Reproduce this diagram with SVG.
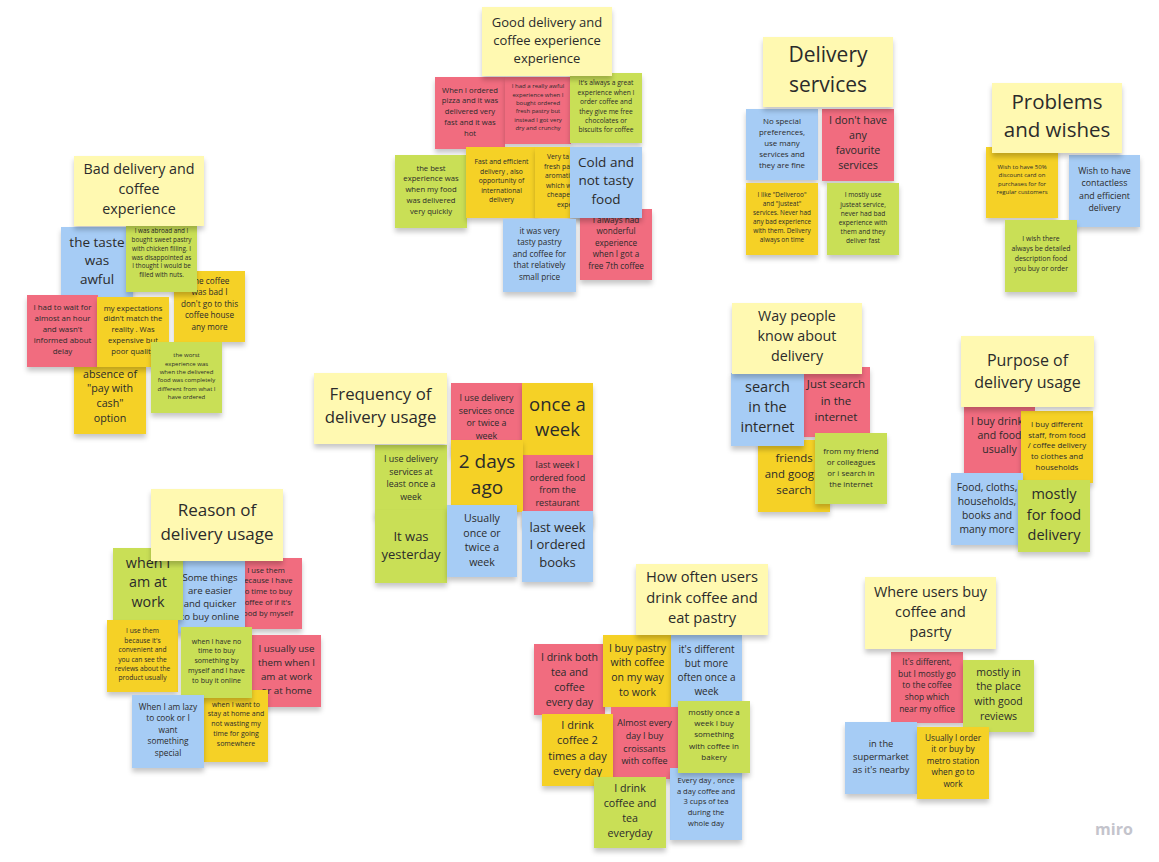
<svg xmlns="http://www.w3.org/2000/svg" width="1159" height="862" viewBox="0 0 1159 862">
<defs>
<filter id="sh" x="-20%" y="-20%" width="140%" height="150%">
<feDropShadow dx="0" dy="4" stdDeviation="2.5" flood-color="#000" flood-opacity="0.22"/>
</filter>
</defs>
<style>
.n{filter:url(#sh)}
.ly{fill:#fff9b1}.pk{fill:#f16c7f}.gr{fill:#c9df56}.bl{fill:#a6ccf5}.yl{fill:#f5d128}
text{font-family:"Open Sans","Noto Sans","DejaVu Sans",sans-serif;fill:#2b2b2b;text-anchor:middle}
.st{text-anchor:start}
.logo{font-family:"Open Sans","Noto Sans",sans-serif;font-weight:700;fill:#c4c4cc;font-size:16px}
</style>
<rect x="0" y="0" width="1159" height="862" fill="#ffffff"/>

<!-- Good delivery cluster -->
<g id="good-pizza"><rect class="n pk" x="435" y="77" width="70" height="72"/><text font-size="7.7"><tspan x="470" y="92.7">When I ordered</tspan><tspan x="470" y="103.4">pizza and it was</tspan><tspan x="470" y="114.2">delivered very</tspan><tspan x="470" y="124.9">fast and it was</tspan><tspan x="470" y="135.7">hot</tspan></text></g>
<g id="good-awful"><rect class="n pk" x="505" y="77" width="66" height="67"/><text font-size="6"><tspan x="538" y="88.1">I had a really awful</tspan><tspan x="538" y="96.5">experience when I</tspan><tspan x="538" y="104.9">bought ordered</tspan><tspan x="538" y="113.3">fresh pastry but</tspan><tspan x="538" y="121.7">instead I got very</tspan><tspan x="538" y="130.1">dry and crunchy</tspan></text></g>
<g id="good-great"><rect class="n gr" x="570" y="73" width="72" height="70"/><text font-size="6.7"><tspan x="606" y="85.3">It's always a great</tspan><tspan x="606" y="94.7">experience when I</tspan><tspan x="606" y="104.1">order coffee and</tspan><tspan x="606" y="113.5">they give me free</tspan><tspan x="606" y="122.9">chocolates or</tspan><tspan x="606" y="132.3">biscuits  for coffee</tspan></text></g>
<g id="good-title"><rect class="n ly" x="482" y="7" width="130" height="69"/><text font-size="13"><tspan x="547" y="26.5">Good delivery and</tspan><tspan x="547" y="44.5">coffee experience</tspan><tspan x="547" y="62.5">experience</tspan></text></g>
<g id="good-best"><rect class="n gr" x="395" y="155" width="72" height="73"/><text font-size="7.7"><tspan x="431" y="170.7">the best</tspan><tspan x="431" y="181.4">experience was</tspan><tspan x="431" y="192.2">when my food</tspan><tspan x="431" y="202.9">was delivered</tspan><tspan x="431" y="213.7">very quickly</tspan></text></g>
<g id="good-fast"><rect class="n yl" x="466" y="147" width="71" height="71"/><text font-size="6.8"><tspan x="501.5" y="164.4">Fast and efficient</tspan><tspan x="501.5" y="173.9">delivery , also</tspan><tspan x="501.5" y="183.4">opportunity of</tspan><tspan x="501.5" y="192.9">international</tspan><tspan x="501.5" y="202.4">delivery</tspan></text></g>
<g id="good-tasty"><rect class="n yl" x="535" y="147" width="70" height="71"/><text font-size="6.8" class="st"><tspan x="547" y="159.4">Very ta</tspan><tspan x="544" y="168.9">fresh pa</tspan><tspan x="545" y="178.4">aromati</tspan><tspan x="546" y="187.9">which w</tspan><tspan x="547" y="197.4">cheape</tspan><tspan x="557" y="206.9">expe</tspan></text></g>
<g id="good-7th"><rect class="n pk" x="580" y="209" width="72" height="71"/><text font-size="8.2"><tspan x="616" y="222.9">I always had</tspan><tspan x="616" y="234.4">wonderful</tspan><tspan x="616" y="245.9">experience</tspan><tspan x="616" y="257.4">when I got a</tspan><tspan x="616" y="268.9">free 7th coffee</tspan></text></g>
<g id="good-cold"><rect class="n bl" x="570" y="147" width="72" height="71"/><text font-size="13.5"><tspan x="606" y="166.7">Cold and</tspan><tspan x="606" y="185.2">not tasty</tspan><tspan x="606" y="203.7">food</tspan></text></g>
<g id="good-price"><rect class="n bl" x="503" y="219" width="73" height="73"/><text font-size="8.2"><tspan x="539.5" y="233.9">it  was very</tspan><tspan x="539.5" y="245.4">tasty pastry</tspan><tspan x="539.5" y="256.9">and coffee for</tspan><tspan x="539.5" y="268.4">that relatively</tspan><tspan x="539.5" y="279.9">small price</tspan></text></g>

<!-- Bad delivery cluster -->
<g id="bad-taste"><rect class="n bl" x="61" y="227" width="72" height="71"/><text font-size="13.5"><tspan x="97" y="246.7">the taste</tspan><tspan x="97" y="265.2">was</tspan><tspan x="97" y="283.7">awful</tspan></text></g>
<g id="bad-coffee"><rect class="n yl" x="174" y="271" width="71" height="71"/><text font-size="8.2"><tspan x="209.5" y="283.9">The coffee</tspan><tspan x="209.5" y="295.4">was bad I</tspan><tspan x="209.5" y="306.9">don't go to this</tspan><tspan x="209.5" y="318.4">coffee house</tspan><tspan x="209.5" y="329.9">any more</tspan></text></g>
<g id="bad-abroad"><rect class="n gr" x="126" y="225" width="71" height="67"/><text font-size="6.3"><tspan x="161.5" y="233.2">I was abroad and I</tspan><tspan x="161.5" y="242">bought sweet pastry</tspan><tspan x="161.5" y="250.8">with chicken filling. I</tspan><tspan x="161.5" y="259.6">was disappointed as</tspan><tspan x="161.5" y="268.4">I thought I would be</tspan><tspan x="161.5" y="277.2">filled with nuts.</tspan></text></g>
<g id="bad-cash"><rect class="n yl" x="74" y="362" width="72" height="72"/><text font-size="10.7"><tspan x="110" y="377.7">absence of</tspan><tspan x="110" y="392.4">"pay with</tspan><tspan x="110" y="407.1">cash"</tspan><tspan x="110" y="421.8">option</tspan></text></g>
<g id="bad-wait"><rect class="n pk" x="27" y="295" width="71" height="72"/><text font-size="7.9"><tspan x="62.5" y="309.8">I had to wait for</tspan><tspan x="62.5" y="320.8">almost an  hour</tspan><tspan x="62.5" y="331.8">and wasn't</tspan><tspan x="62.5" y="342.8">informed about</tspan><tspan x="62.5" y="353.8">delay</tspan></text></g>
<g id="bad-expect"><rect class="n yl" x="97" y="297" width="72" height="70"/><text font-size="7.7"><tspan x="133" y="310.7">my expectations</tspan><tspan x="133" y="321.4">didn't match the</tspan><tspan x="133" y="332.2">reality . Was</tspan><tspan x="133" y="342.9">expensive but</tspan><tspan x="133" y="353.7">poor quality</tspan></text></g>
<g id="bad-worst"><rect class="n gr" x="151" y="342" width="71" height="71"/><text font-size="6"><tspan x="186.5" y="357.1">the worst</tspan><tspan x="186.5" y="365.5">experience was</tspan><tspan x="186.5" y="373.9">when the delivered</tspan><tspan x="186.5" y="382.3">food was completely</tspan><tspan x="186.5" y="390.7">different from what I</tspan><tspan x="186.5" y="399.1">have ordered</tspan></text></g>
<g id="bad-title"><rect class="n ly" x="74" y="156" width="130" height="70"/><text font-size="14.3"><tspan x="139" y="174">Bad delivery and</tspan><tspan x="139" y="194">coffee</tspan><tspan x="139" y="214">experience</tspan></text></g>

<!-- Delivery services -->
<g id="svc-none"><rect class="n bl" x="746" y="109" width="72" height="71"/><text font-size="7.9"><tspan x="782" y="123.8">No special</tspan><tspan x="782" y="134.8">preferences,</tspan><tspan x="782" y="145.8">use many</tspan><tspan x="782" y="156.8">services and</tspan><tspan x="782" y="167.8">they are fine</tspan></text></g>
<g id="svc-fav"><rect class="n pk" x="822" y="109" width="72" height="72"/><text font-size="10.7"><tspan x="858" y="123.7">I don't have</tspan><tspan x="858" y="138.7">any</tspan><tspan x="858" y="153.7">favourite</tspan><tspan x="858" y="168.7">services</tspan></text></g>
<g id="svc-deliveroo"><rect class="n yl" x="746" y="183" width="72" height="72"/><text font-size="6.4"><tspan x="782" y="197.2">I like "Deliveroo"</tspan><tspan x="782" y="206.2">and "Justeat"</tspan><tspan x="782" y="215.2">services. Never had</tspan><tspan x="782" y="224.2">any bad experience</tspan><tspan x="782" y="233.2">with them. Delivery</tspan><tspan x="782" y="242.2">always on time</tspan></text></g>
<g id="svc-justeat"><rect class="n gr" x="827" y="183" width="72" height="72"/><text font-size="6.6"><tspan x="863" y="197.3">I mostly use</tspan><tspan x="863" y="206.5">justeat service,</tspan><tspan x="863" y="215.7">never had bad</tspan><tspan x="863" y="224.9">experience with</tspan><tspan x="863" y="234.1">them and they</tspan><tspan x="863" y="243.3">deliver fast</tspan></text></g>
<g id="svc-title"><rect class="n ly" x="763" y="37" width="130" height="70"/><text font-size="21"><tspan x="828" y="62.4">Delivery</tspan><tspan x="828" y="92.4">services</tspan></text></g>

<!-- Problems and wishes -->
<g id="pw-discount"><rect class="n yl" x="986" y="147" width="72" height="71"/><text font-size="6"><tspan x="1022" y="169.1">Wish to have 50%</tspan><tspan x="1022" y="177.4">discount card on</tspan><tspan x="1022" y="185.7">purchases for for</tspan><tspan x="1022" y="194">regular customers</tspan></text></g>
<g id="pw-contactless"><rect class="n bl" x="1069" y="155" width="71" height="72"/><text font-size="8.8"><tspan x="1104.5" y="174.1">Wish to have</tspan><tspan x="1104.5" y="186.4">contactless</tspan><tspan x="1104.5" y="198.7">and efficient</tspan><tspan x="1104.5" y="211">delivery</tspan></text></g>
<g id="pw-description"><rect class="n gr" x="1005" y="220" width="72" height="72"/><text font-size="6.9"><tspan x="1041" y="241.4">I wish there</tspan><tspan x="1041" y="251.1">always be detailed</tspan><tspan x="1041" y="260.8">description food</tspan><tspan x="1041" y="270.5">you buy or order</tspan></text></g>
<g id="pw-title"><rect class="n ly" x="992" y="83" width="130" height="70"/><text font-size="20.5"><tspan x="1057" y="109.2">Problems</tspan><tspan x="1057" y="137.2">and wishes</tspan></text></g>

<!-- Frequency -->
<g id="fr-once-twice"><rect class="n pk" x="451" y="383" width="71" height="72"/><text font-size="8.9"><tspan x="486.5" y="401.1">I use delivery</tspan><tspan x="486.5" y="413.6">services once</tspan><tspan x="486.5" y="426.1">or twice a</tspan><tspan x="486.5" y="438.6">week</tspan></text></g>
<g id="fr-once-week"><rect class="n yl" x="522" y="383" width="71" height="72"/><text font-size="18.5"><tspan x="557.5" y="410.5">once a</tspan><tspan x="557.5" y="435.5">week</tspan></text></g>
<g id="fr-restaurant"><rect class="n pk" x="522" y="455" width="71" height="70"/><text font-size="9"><tspan x="557.5" y="468.2">last week I</tspan><tspan x="557.5" y="480.8">ordered food</tspan><tspan x="557.5" y="493.4">from the</tspan><tspan x="557.5" y="506">restaurant</tspan></text></g>
<g id="fr-2days"><rect class="n yl" x="451" y="440" width="72" height="72"/><text font-size="19"><tspan x="487" y="467.7">2 days</tspan><tspan x="487" y="493.7">ago</tspan></text></g>
<g id="fr-least"><rect class="n gr" x="375" y="445" width="72" height="72"/><text font-size="8.9"><tspan x="411" y="462.1">I use delivery</tspan><tspan x="411" y="474.6">services at</tspan><tspan x="411" y="487.1">least once a</tspan><tspan x="411" y="499.6">week</tspan></text></g>
<g id="fr-yesterday"><rect class="n gr" x="375" y="510" width="72" height="73"/><text font-size="13"><tspan x="411" y="540.6">It was</tspan><tspan x="411" y="558.6">yesterday</tspan></text></g>
<g id="fr-usually"><rect class="n bl" x="447" y="505" width="70" height="72"/><text font-size="10.6"><tspan x="482" y="521.7">Usually</tspan><tspan x="482" y="536.5">once or</tspan><tspan x="482" y="551.3">twice a</tspan><tspan x="482" y="566.1">week</tspan></text></g>
<g id="fr-books"><rect class="n bl" x="522" y="511" width="71" height="71"/><text font-size="13"><tspan x="557.5" y="531.6">last week</tspan><tspan x="557.5" y="549.1">I ordered</tspan><tspan x="557.5" y="566.6">books</tspan></text></g>
<g id="fr-title"><rect class="n ly" x="314" y="373" width="133" height="71"/><text font-size="16.8"><tspan x="380.5" y="399.9">Frequency of</tspan><tspan x="380.5" y="422.9">delivery usage</tspan></text></g>

<!-- Way people know -->
<g id="way-just"><rect class="n pk" x="803" y="367" width="67" height="70"/><text font-size="11.5"><tspan x="836" y="388">Just search</tspan><tspan x="836" y="404.5">in the</tspan><tspan x="836" y="421">internet</tspan></text></g>
<g id="way-friends"><rect class="n yl" x="758" y="440" width="72" height="72"/><text font-size="11.4"><tspan x="794" y="462">friends</tspan><tspan x="794" y="478">and google</tspan><tspan x="794" y="494">search</tspan></text></g>
<g id="way-colleagues"><rect class="n gr" x="815" y="433" width="72" height="71"/><text font-size="7.9"><tspan x="851" y="453.8">from my friend</tspan><tspan x="851" y="464.8">or colleagues</tspan><tspan x="851" y="475.8">or i search in</tspan><tspan x="851" y="486.8">the internet</tspan></text></g>
<g id="way-search"><rect class="n bl" x="731" y="373" width="73" height="73"/><text font-size="14.5"><tspan x="767.5" y="392.1">search</tspan><tspan x="767.5" y="412.1">in the</tspan><tspan x="767.5" y="432.1">internet</tspan></text></g>
<g id="way-title"><rect class="n ly" x="732" y="303" width="130" height="71"/><text font-size="14.3"><tspan x="797" y="321">Way people</tspan><tspan x="797" y="341">know about</tspan><tspan x="797" y="361">delivery</tspan></text></g>

<!-- Purpose -->
<g id="pur-drinks"><rect class="n pk" x="964" y="407" width="71" height="72"/><text font-size="10.5"><tspan x="999.5" y="424.7">I buy drinks</tspan><tspan x="999.5" y="438.7">and food</tspan><tspan x="999.5" y="452.7">usually</tspan></text></g>
<g id="pur-staff"><rect class="n yl" x="1021" y="411" width="72" height="72"/><text font-size="7.9"><tspan x="1057" y="426.8">I buy different</tspan><tspan x="1057" y="437.6">staff, from food</tspan><tspan x="1057" y="448.3">/ coffee delivery</tspan><tspan x="1057" y="459">to clothes and</tspan><tspan x="1057" y="469.8">households</tspan></text></g>
<g id="pur-cloths"><rect class="n bl" x="951" y="473" width="72" height="72"/><text font-size="10.3"><tspan x="987" y="490.6">Food, cloths,</tspan><tspan x="987" y="504.6">households,</tspan><tspan x="987" y="518.6">books and</tspan><tspan x="987" y="532.6">many more</tspan></text></g>
<g id="pur-food"><rect class="n gr" x="1018" y="480" width="72" height="72"/><text font-size="14.5"><tspan x="1054" y="499.1">mostly</tspan><tspan x="1054" y="519.6">for food</tspan><tspan x="1054" y="540.1">delivery</tspan></text></g>
<g id="pur-title"><rect class="n ly" x="961" y="336" width="133" height="71"/><text font-size="16"><tspan x="1027.5" y="366.2">Purpose of</tspan><tspan x="1027.5" y="388">delivery usage</tspan></text></g>

<!-- Reason -->
<g id="rs-coffee"><rect class="n pk" x="230" y="558" width="72" height="71"/><text font-size="7.7"><tspan x="266" y="572.7">I use them</tspan><tspan x="266" y="583.4">because I have</tspan><tspan x="266" y="594.2">no time to buy</tspan><tspan x="266" y="604.9">coffee of if it's</tspan><tspan x="266" y="615.7">good  by myself</tspan></text></g>
<g id="rs-easier"><rect class="n bl" x="175" y="561" width="70" height="72"/><text font-size="9.6"><tspan x="210" y="581.4">Some things</tspan><tspan x="210" y="594.1">are easier</tspan><tspan x="210" y="606.8">and quicker</tspan><tspan x="210" y="619.5">to buy online</tspan></text></g>
<g id="rs-work"><rect class="n gr" x="113" y="548" width="70" height="72"/><text font-size="14.3"><tspan x="148" y="567.9">when I</tspan><tspan x="148" y="587.4">am at</tspan><tspan x="148" y="606.9">work</tspan></text></g>
<g id="rs-reviews"><rect class="n yl" x="107" y="620" width="71" height="72"/><text font-size="6.7"><tspan x="142.5" y="633.3">I use them</tspan><tspan x="142.5" y="642.7">because it's</tspan><tspan x="142.5" y="652.1">convenient and</tspan><tspan x="142.5" y="661.5">you can see the</tspan><tspan x="142.5" y="670.9">reviews about the</tspan><tspan x="142.5" y="680.3">product usually</tspan></text></g>
<g id="rs-home"><rect class="n pk" x="252" y="635" width="69" height="72"/><text font-size="9.8"><tspan x="286.5" y="652.4">I usually use</tspan><tspan x="286.5" y="666.4">them when I</tspan><tspan x="286.5" y="680.4">am at work</tspan><tspan x="286.5" y="694.4">or at home</tspan></text></g>
<g id="rs-stay"><rect class="n yl" x="204" y="690" width="64" height="72"/><text font-size="7"><tspan x="236" y="706.5">when I want to</tspan><tspan x="236" y="716.3">stay at home and</tspan><tspan x="236" y="726.1">not wasting my</tspan><tspan x="236" y="735.9">time for  going</tspan><tspan x="236" y="745.7">somewhere</tspan></text></g>
<g id="rs-notime"><rect class="n gr" x="181" y="627" width="71" height="71"/><text font-size="7"><tspan x="216.5" y="643.5">when I have no</tspan><tspan x="216.5" y="653.3">time to buy</tspan><tspan x="216.5" y="663.1">something by</tspan><tspan x="216.5" y="672.9">myself and I have</tspan><tspan x="216.5" y="682.7">to buy it online</tspan></text></g>
<g id="rs-lazy"><rect class="n bl" x="132" y="695" width="72" height="73"/><text font-size="8.3"><tspan x="168" y="709.9">When I am lazy</tspan><tspan x="168" y="721.4">to cook or I</tspan><tspan x="168" y="732.9">want</tspan><tspan x="168" y="744.4">something</tspan><tspan x="168" y="755.9">special</tspan></text></g>
<g id="rs-title"><rect class="n ly" x="151" y="489" width="132" height="72"/><text font-size="17"><tspan x="217" y="516">Reason of</tspan><tspan x="217" y="540">delivery usage</tspan></text></g>

<!-- How often -->
<g id="ho-both"><rect class="n pk" x="534" y="644" width="71" height="71"/><text font-size="10.6"><tspan x="569.5" y="660.7">I drink both</tspan><tspan x="569.5" y="675.7">tea and</tspan><tspan x="569.5" y="690.7">coffee</tspan><tspan x="569.5" y="705.7">every day</tspan></text></g>
<g id="ho-pastry"><rect class="n yl" x="603" y="635" width="69" height="72"/><text font-size="10.5"><tspan x="637.5" y="651.7">I buy pastry</tspan><tspan x="637.5" y="666.4">with coffee</tspan><tspan x="637.5" y="681.1">on my way</tspan><tspan x="637.5" y="695.8">to work</tspan></text></g>
<g id="ho-different"><rect class="n bl" x="671" y="635" width="71" height="72"/><text font-size="10"><tspan x="706.5" y="652.5">it's different</tspan><tspan x="706.5" y="666.5">but more</tspan><tspan x="706.5" y="680.5">often once a</tspan><tspan x="706.5" y="694.5">week</tspan></text></g>
<g id="ho-croissants"><rect class="n pk" x="611" y="707" width="67" height="72"/><text font-size="9"><tspan x="644.5" y="726.2">Almost every</tspan><tspan x="644.5" y="738.9">day I buy</tspan><tspan x="644.5" y="751.6">croissants</tspan><tspan x="644.5" y="764.3">with coffee</tspan></text></g>
<g id="ho-2times"><rect class="n yl" x="542" y="714" width="71" height="72"/><text font-size="11"><tspan x="577.5" y="728.9">I drink</tspan><tspan x="577.5" y="744.2">coffee 2</tspan><tspan x="577.5" y="759.5">times a day</tspan><tspan x="577.5" y="774.8">every day</tspan></text></g>
<g id="ho-cups"><rect class="n bl" x="670" y="768" width="72" height="72"/><text font-size="7.6"><tspan x="706" y="782.7">Every day , once</tspan><tspan x="706" y="793.5">a day coffee and</tspan><tspan x="706" y="804.2">3 cups of tea</tspan><tspan x="706" y="815">during the</tspan><tspan x="706" y="825.7">whole day</tspan></text></g>
<g id="ho-bakery"><rect class="n gr" x="678" y="701" width="72" height="72"/><text font-size="8"><tspan x="714" y="714.8">mostly once a</tspan><tspan x="714" y="726">week I buy</tspan><tspan x="714" y="737.3">something</tspan><tspan x="714" y="748.5">with coffee in</tspan><tspan x="714" y="759.8">bakery</tspan></text></g>
<g id="ho-everyday"><rect class="n gr" x="594" y="777" width="72" height="71"/><text font-size="10.7"><tspan x="630" y="791.7">I drink</tspan><tspan x="630" y="806.7">coffee and</tspan><tspan x="630" y="821.7">tea</tspan><tspan x="630" y="836.7">everyday</tspan></text></g>
<g id="ho-title"><rect class="n ly" x="636" y="564" width="132" height="71"/><text font-size="14.7"><tspan x="702" y="582.1">How often users</tspan><tspan x="702" y="602.6">drink coffee and</tspan><tspan x="702" y="623.1">eat pastry</tspan></text></g>

<!-- Where users buy -->
<g id="wh-office"><rect class="n pk" x="891" y="652" width="72" height="71"/><text font-size="8.4"><tspan x="927" y="664.9">It's different,</tspan><tspan x="927" y="676.6">but I mostly go</tspan><tspan x="927" y="688.4">to the coffee</tspan><tspan x="927" y="700.1">shop which</tspan><tspan x="927" y="711.9">near my office</tspan></text></g>
<g id="wh-reviews"><rect class="n gr" x="963" y="660" width="71" height="72"/><text font-size="10.5"><tspan x="998.5" y="675.7">mostly in</tspan><tspan x="998.5" y="690.4">the place</tspan><tspan x="998.5" y="705.1">with good</tspan><tspan x="998.5" y="719.8">reviews</tspan></text></g>
<g id="wh-supermarket"><rect class="n bl" x="845" y="722" width="72" height="72"/><text font-size="9.3"><tspan x="881" y="747.3">in the</tspan><tspan x="881" y="760.3">supermarket</tspan><tspan x="881" y="773.3">as it's nearby</tspan></text></g>
<g id="wh-metro"><rect class="n yl" x="917" y="727" width="72" height="72"/><text font-size="8.3"><tspan x="953" y="740.9">Usually I order</tspan><tspan x="953" y="752.4">it or buy by</tspan><tspan x="953" y="763.9">metro station</tspan><tspan x="953" y="775.4">when go to</tspan><tspan x="953" y="786.9">work</tspan></text></g>
<g id="wh-title"><rect class="n ly" x="865" y="577" width="131" height="72"/><text font-size="14.4"><tspan x="930.5" y="597">Where users buy</tspan><tspan x="930.5" y="617">coffee and</tspan><tspan x="930.5" y="637">pasrty</tspan></text></g>

<text class="logo" x="1114" y="835">miro</text>
</svg>
